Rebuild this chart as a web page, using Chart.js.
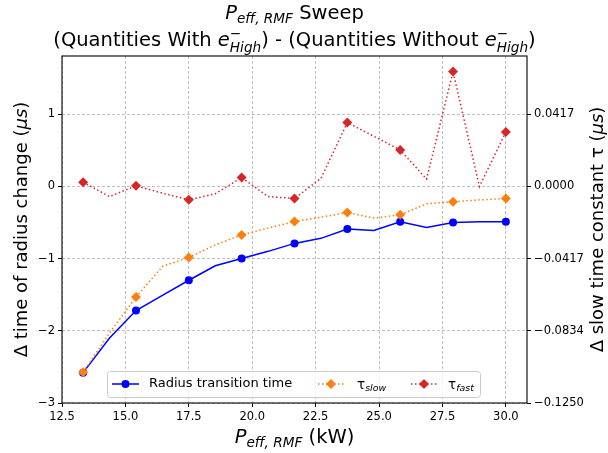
<!DOCTYPE html>
<html>
<head>
<meta charset="utf-8">
<script src="https://cdn.jsdelivr.net/npm/chart.js@4/dist/chart.umd.min.js"></script>
<style>
  html, body { margin: 0; padding: 0; background: #ffffff; }
  #wrap { width: 608px; height: 453px; }
</style>
</head>
<body>
<div id="wrap"><canvas id="c" width="608" height="453"></canvas></div>
<script>
// Effective RMF power (kW)
const power = [13.333, 14.375, 15.417, 16.458, 17.5, 18.542, 19.583, 20.625, 21.667,
               22.708, 23.75, 24.792, 25.833, 26.875, 27.917, 28.958, 30.0];
// Δ time of radius change (μs), left axis
const radiusTime = [-2.58, -2.10, -1.72, -1.51, -1.30, -1.10, -1.00, -0.90, -0.79,
                    -0.72, -0.59, -0.61, -0.49, -0.57, -0.50, -0.49, -0.49];
// Δ slow time constant (μs), right axis
const tauSlow = [-0.1073, -0.0846, -0.0639, -0.0462, -0.0410, -0.0338, -0.0280, -0.0241, -0.0203,
                 -0.0178, -0.0151, -0.0183, -0.0164, -0.0101, -0.0089, -0.0078, -0.0070];
// Δ fast time constant (μs), right axis
const tauFast = [0.0024, -0.0059, 0.0003, -0.0039, -0.0078, -0.0043, 0.0051, -0.0059, -0.0070,
                 0.0046, 0.0368, 0.0289, 0.0210, 0.0042, 0.0662, -0.0001, 0.0314];

const xTicks = [12.5, 15.0, 17.5, 20.0, 22.5, 25.0, 27.5, 30.0];
const leftTicks = [-3, -2, -1, 0, 1];
const rightTicks = [-0.125, -0.0834, -0.0417, 0.0, 0.0417];

const FAM = '"DejaVu Sans", "Liberation Sans", sans-serif';
const MINUS = '\u2212';
const BLUE = '#0000ff', ORANGE = '#ff7f0e', RED = '#d62728';

function pts(ys) { return power.map((x, i) => ({ x: x, y: ys[i] })); }
// markers on every other sample
function everyOther(r) { return ctx => (ctx.dataIndex % 2 === 0 ? r : 0); }

function fnt(sz, it) { return (it ? 'italic ' : '') + sz + 'px ' + FAM; }
function segWidth(ctx, s, size) {
  if (s.stack) {
    ctx.font = fnt(size * 0.7, s.it);
    return Math.max(ctx.measureText(s.sup).width, ctx.measureText(s.sub).width);
  }
  ctx.font = fnt(s.sub ? size * 0.7 : size, s.it);
  return ctx.measureText(s.t).width;
}
// text with sub/superscripts, centred (or left aligned) on x at baseline y
function drawRich(ctx, segs, x, y, size, rot, align) {
  ctx.save();
  ctx.translate(x, y);
  if (rot) ctx.rotate(rot);
  ctx.textBaseline = 'alphabetic';
  ctx.textAlign = 'left';
  ctx.fillStyle = '#000000';
  const ws = segs.map(s => segWidth(ctx, s, size));
  const total = ws.reduce((a, b) => a + b, 0);
  let cx = align === 'left' ? 0 : -total / 2;
  segs.forEach((s, i) => {
    if (s.stack) {
      ctx.font = fnt(size * 0.7, false);
      ctx.fillText(s.sup, cx, -size * 0.42);
      ctx.font = fnt(size * 0.7, s.it);
      ctx.fillText(s.sub, cx, size * 0.3);
    } else {
      ctx.font = fnt(s.sub ? size * 0.7 : size, s.it);
      ctx.fillText(s.t, cx, s.sub ? size * 0.22 : 0);
    }
    cx += ws[i];
  });
  ctx.restore();
}

function diamond(ctx, x, y, r, color) {
  ctx.beginPath();
  ctx.moveTo(x, y - r); ctx.lineTo(x + r, y); ctx.lineTo(x, y + r); ctx.lineTo(x - r, y);
  ctx.closePath();
  ctx.fillStyle = color; ctx.fill();
}
function dot(ctx, x, y, r, color) {
  ctx.beginPath(); ctx.arc(x, y, r, 0, Math.PI * 2);
  ctx.fillStyle = color; ctx.fill();
}

const decorations = {
  id: 'decorations',
  afterDraw(chart) {
    const ctx = chart.ctx;
    const a = chart.chartArea;
    // frame
    ctx.save();
    ctx.strokeStyle = '#000000';
    ctx.lineWidth = 1.1;
    ctx.strokeRect(a.left, a.top, a.right - a.left, a.bottom - a.top);
    ctx.restore();

    // titles
    const cxm = (a.left + a.right) / 2;
    drawRich(ctx, [{ t: 'P', it: true }, { t: 'eff, RMF', it: true, sub: true }, { t: ' Sweep' }],
      cxm, 19, 19.5);
    drawRich(ctx, [{ t: '(Quantities With ' }, { t: 'e', it: true }, { stack: true, sup: MINUS, sub: 'High', it: true },
      { t: ') - (Quantities Without ' }, { t: 'e', it: true }, { stack: true, sup: MINUS, sub: 'High', it: true },
      { t: ')' }], cxm, 46, 19.5);

    // axis titles
    drawRich(ctx, [{ t: 'P', it: true }, { t: 'eff, RMF', it: true, sub: true }, { t: ' (kW)' }],
      cxm, 443, 19.5);
    const cym = (a.top + a.bottom) / 2;
    drawRich(ctx, [{ t: '\u0394 time of radius change (' }, { t: '\u03bcs', it: true }, { t: ')' }],
      27, cym, 18, -Math.PI / 2);
    drawRich(ctx, [{ t: '\u0394 slow time constant \u03c4 (' }, { t: '\u03bcs', it: true }, { t: ')' }],
      603, cym, 18, -Math.PI / 2);

    // legend
    const lx = 107, ly = 371, lw = 373, lh = 26, ym = 384;
    ctx.save();
    ctx.beginPath();
    ctx.roundRect(lx + 0.5, ly + 0.5, lw, lh, 3);
    ctx.fillStyle = 'rgba(255,255,255,0.8)';
    ctx.fill();
    ctx.strokeStyle = '#cccccc';
    ctx.lineWidth = 1;
    ctx.stroke();

    ctx.lineWidth = 1.5;
    ctx.strokeStyle = BLUE;
    ctx.beginPath(); ctx.moveTo(112, ym); ctx.lineTo(139, ym); ctx.stroke();
    dot(ctx, 125.5, ym, 4, BLUE);

    ctx.setLineDash([1.5, 2.5]);
    ctx.strokeStyle = ORANGE;
    ctx.beginPath(); ctx.moveTo(318, ym); ctx.lineTo(344, ym); ctx.stroke();
    ctx.strokeStyle = RED;
    ctx.beginPath(); ctx.moveTo(411, ym); ctx.lineTo(437, ym); ctx.stroke();
    ctx.setLineDash([]);
    diamond(ctx, 331, ym, 5, ORANGE);
    diamond(ctx, 424, ym, 5, RED);

    ctx.fillStyle = '#000000';
    ctx.font = fnt(13, false);
    ctx.textBaseline = 'middle';
    ctx.textAlign = 'left';
    ctx.fillText('Radius transition time', 149, ym);
    ctx.restore();
    drawRich(ctx, [{ t: '\u03c4' }, { t: 'slow', it: true, sub: true }], 357, ym + 4.5, 13.5, 0, 'left');
    drawRich(ctx, [{ t: '\u03c4' }, { t: 'fast', it: true, sub: true }], 448, ym + 4.5, 13.5, 0, 'left');
  }
};

const tickFont = { family: FAM, size: 11.5 };
const gridBase = { color: '#b0b0b0', lineWidth: 0.8, tickLength: 4, tickColor: '#000000', tickWidth: 1 };

new Chart(document.getElementById('c'), {
  type: 'line',
  data: {
    datasets: [
      {
        label: 'Radius transition time', data: pts(radiusTime), yAxisID: 'y', order: 3,
        borderColor: BLUE, backgroundColor: BLUE, borderWidth: 1.5, tension: 0,
        pointStyle: 'circle', pointRadius: everyOther(4), pointBorderWidth: 0, pointHoverRadius: 0
      },
      {
        label: 'tau slow', data: pts(tauSlow), yAxisID: 'y2', order: 2,
        borderColor: ORANGE, backgroundColor: ORANGE, borderWidth: 1.5, borderDash: [1.5, 2.5], tension: 0,
        pointStyle: 'rectRot', pointRadius: everyOther(5), pointBorderWidth: 0, pointHoverRadius: 0
      },
      {
        label: 'tau fast', data: pts(tauFast), yAxisID: 'y2', order: 1,
        borderColor: RED, backgroundColor: RED, borderWidth: 1.5, borderDash: [1.5, 2.5], tension: 0,
        pointStyle: 'rectRot', pointRadius: everyOther(5), pointBorderWidth: 0, pointHoverRadius: 0
      }
    ]
  },
  options: {
    responsive: false,
    animation: false,
    devicePixelRatio: 1,
    layout: { padding: { top: 56, left: 0, right: 0, bottom: 0 } },
    plugins: { legend: { display: false }, tooltip: { enabled: false }, title: { display: false } },
    scales: {
      x: {
        type: 'linear', min: 12.5, max: 30.8333,
        afterBuildTicks: s => { s.ticks = xTicks.map(v => ({ value: v })); },
        afterFit: s => { s.height = 50; },
        ticks: { font: tickFont, color: '#000000', padding: 3, autoSkip: false, maxRotation: 0,
                 callback: v => v.toFixed(1) },
        grid: gridBase,
        border: { display: false, dash: [3, 2] }
      },
      y: {
        type: 'linear', position: 'left', min: -3, max: 1.805,
        afterBuildTicks: s => { s.ticks = leftTicks.map(v => ({ value: v })); },
        afterFit: s => { s.width = 62; },
        ticks: { font: tickFont, color: '#000000', padding: 3, autoSkip: false,
                 callback: v => (v < 0 ? MINUS + Math.abs(v) : String(v)) },
        grid: gridBase,
        border: { display: false, dash: [3, 2] }
      },
      y2: {
        type: 'linear', position: 'right', min: -0.125, max: 0.07521,
        afterBuildTicks: s => { s.ticks = rightTicks.map(v => ({ value: v })); },
        afterFit: s => { s.width = 81; },
        ticks: { font: tickFont, color: '#000000', padding: 3, autoSkip: false,
                 callback: v => (v < 0 ? MINUS + Math.abs(v).toFixed(4) : v.toFixed(4)) },
        grid: Object.assign({}, gridBase, { drawOnChartArea: false }),
        border: { display: false }
      }
    }
  },
  plugins: [decorations]
});
</script>
</body>
</html>
